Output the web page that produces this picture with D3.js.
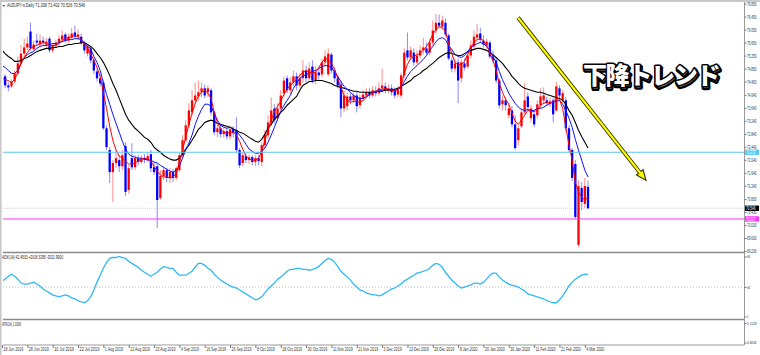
<!DOCTYPE html>
<html><head><meta charset="utf-8">
<script src="https://cdn.jsdelivr.net/npm/d3@7"></script>
<style>
html,body{margin:0;padding:0;background:#fff;}
svg{display:block;}
</style></head>
<body>
<svg id="chart" width="760" height="355"></svg>
<script>
// ================= DATA =================
const barOpen=[74.39,74.61,74.33,74.30,74.45,74.70,75.01,75.31,75.50,75.99,
75.44,75.71,75.59,75.71,75.59,75.77,75.41,75.56,75.65,75.74,
75.90,75.71,75.80,75.96,75.83,75.83,75.62,75.31,75.47,75.10,
74.76,74.55,74.42,73.01,72.34,71.66,71.94,72.03,71.84,72.46,
71.11,72.09,71.81,72.09,71.97,72.09,72.03,72.21,71.81,71.84,
70.86,71.54,71.72,71.48,71.66,71.48,71.72,72.18,72.64,73.10,
73.50,73.87,73.99,74.12,74.24,74.12,74.18,73.50,72.89,73.01,
72.83,72.92,72.76,72.98,72.95,72.34,71.94,72.15,72.03,72.12,
71.97,72.09,71.97,72.49,72.80,73.19,73.62,73.32,73.62,74.09,
74.55,74.18,74.42,74.61,74.33,74.55,74.79,74.55,74.91,74.48,
74.73,74.67,75.04,74.67,75.28,74.79,74.55,74.36,73.62,73.69,
73.99,73.87,74.02,73.72,73.93,74.02,74.12,74.02,74.15,74.09,
74.24,74.30,74.18,74.24,74.18,74.05,74.02,74.64,75.41,75.19,
75.34,75.04,75.25,75.41,75.47,75.34,75.65,76.02,76.26,76.14,
76.26,75.87,75.10,74.85,75.04,74.55,75.01,74.91,75.25,75.53,
75.80,75.93,75.71,75.56,75.65,75.22,75.10,74.48,73.75,73.87,
73.41,73.56,73.13,72.64,73.07,73.50,73.99,73.32,73.44,73.41,
73.72,73.87,73.87,73.75,73.87,73.56,74.24,73.87,73.87,73.01,
72.34,71.91,69.42,71.17,70.68,71.208];
const barHigh=[74.73,74.67,74.42,74.51,74.79,75.22,75.56,75.77,75.83,76.26,
75.71,75.93,75.90,75.83,75.80,75.83,75.65,75.74,75.87,76.02,
75.96,75.93,76.11,76.17,76.05,75.93,75.71,75.59,75.53,75.16,
74.85,74.67,74.48,73.10,72.43,72.03,72.34,72.18,72.34,72.58,
71.87,72.55,72.18,72.18,72.18,72.21,72.27,72.34,71.97,71.91,
71.72,71.84,71.78,71.78,71.75,71.84,72.27,72.80,73.26,73.78,
74.18,74.42,74.48,74.42,74.36,74.33,74.24,73.56,73.13,73.10,
73.01,73.04,73.10,73.07,73.35,72.40,72.27,72.24,72.21,72.18,
72.18,72.18,72.58,72.95,73.41,73.96,73.75,73.78,74.18,74.61,
74.64,74.58,74.79,74.73,74.70,75.10,74.94,75.04,75.10,74.91,
74.91,75.16,75.41,75.47,75.34,74.88,74.64,74.48,74.18,74.12,
74.09,74.12,74.12,74.05,74.18,74.24,74.24,74.30,74.30,74.42,
74.85,74.42,74.36,74.36,74.27,74.30,74.73,75.47,75.96,75.53,
75.47,75.41,75.56,75.80,75.65,75.77,76.33,76.54,76.51,76.48,
76.39,75.93,75.19,75.16,75.16,75.13,75.16,75.41,75.71,76.02,
76.23,76.11,75.87,75.77,75.71,75.41,75.16,74.55,74.02,73.96,
73.78,73.69,73.41,73.10,73.62,74.39,74.12,73.72,73.56,73.87,
74.24,74.27,73.99,73.96,73.96,74.45,74.33,74.18,73.96,73.10,
72.40,72.03,71.41,71.35,71.48,71.402];
const barLow=[73.93,74.24,74.15,74.24,74.39,74.64,74.94,75.22,75.41,75.41,
75.37,75.56,75.53,75.56,75.50,75.34,75.34,75.47,75.56,75.68,
75.65,75.62,75.74,75.77,75.74,75.59,75.31,75.22,75.01,74.67,
74.45,74.30,72.95,72.34,71.32,70.74,71.78,71.66,71.72,70.92,
71.01,71.72,71.72,71.87,71.91,71.94,71.97,71.66,71.57,69.94,
70.80,71.41,71.35,71.32,71.35,71.41,71.66,72.09,72.58,73.01,
73.41,73.75,73.87,73.96,73.93,73.96,73.41,72.80,72.73,72.73,
72.73,72.67,72.67,72.73,72.27,71.78,71.84,71.94,71.91,71.87,
71.84,71.87,71.84,72.40,72.70,73.10,73.16,73.23,73.56,73.99,
74.09,74.05,74.30,74.18,74.24,74.42,74.42,74.48,74.39,74.36,
74.51,74.58,74.91,74.61,74.70,74.42,74.24,73.35,73.50,73.56,
73.75,73.78,73.50,73.62,73.84,73.93,73.93,73.96,73.99,74.02,
74.12,74.09,74.09,74.02,73.93,73.96,73.93,74.55,75.10,75.10,
74.94,74.98,75.16,75.28,75.25,75.25,75.56,75.93,76.08,76.05,
75.83,75.10,74.73,74.73,73.78,74.42,74.79,74.85,75.16,75.47,
75.71,75.65,75.50,75.47,75.16,75.01,74.39,73.62,73.56,73.56,
73.32,73.04,72.34,72.49,73.01,73.44,73.56,73.19,73.04,73.32,
73.62,73.75,73.69,73.66,73.19,73.50,73.93,73.78,72.92,72.27,
71.38,70.22,69.36,70.49,70.55,70.526];
const barClose=[74.64,74.33,74.27,74.45,74.70,75.01,75.31,75.50,75.62,75.47,
75.59,75.65,75.71,75.65,75.68,75.41,75.56,75.65,75.77,75.87,
75.71,75.83,75.93,75.83,75.90,75.62,75.41,75.53,75.10,74.79,
74.55,74.39,73.01,72.43,71.66,71.94,72.09,71.84,72.18,71.05,
71.78,71.81,72.09,71.97,72.09,72.03,72.15,71.78,71.66,70.80,
71.54,71.72,71.48,71.66,71.48,71.78,72.18,72.64,73.10,73.56,
73.87,74.02,74.12,74.24,74.02,74.24,73.50,72.89,73.01,72.83,
72.92,72.76,72.98,72.86,72.34,71.87,72.18,72.03,72.12,71.97,
72.09,72.00,72.49,72.80,73.19,73.56,73.26,73.62,74.02,74.48,
74.18,74.42,74.61,74.33,74.55,74.79,74.55,74.85,74.48,74.73,
74.64,75.04,75.22,75.31,74.79,74.55,74.33,73.62,74.02,73.99,
73.87,74.02,73.69,73.96,74.05,74.12,74.02,74.18,74.09,74.24,
74.33,74.18,74.24,74.12,74.02,74.18,74.64,75.34,75.19,75.41,
75.04,75.25,75.41,75.50,75.34,75.65,76.02,76.26,76.17,76.33,
75.90,75.16,74.85,75.01,74.48,75.04,74.88,75.25,75.56,75.83,
75.90,75.74,75.59,75.68,75.22,75.10,74.48,73.72,73.87,73.72,
73.62,73.13,72.40,73.01,73.50,73.87,73.66,73.62,73.13,73.75,
73.99,74.02,73.78,73.84,73.44,74.30,74.02,74.09,73.01,72.34,
71.48,70.28,71.23,70.74,71.23,70.546];
// moving averages as drawn on the chart (fast red, medium blue, slow black)
const maFast=[74.55,74.51,74.48,74.42,74.51,74.73,75.01,75.19,75.34,75.47,
75.53,75.56,75.62,75.65,75.62,75.56,75.56,75.56,75.62,75.71,
75.77,75.80,75.83,75.87,75.83,75.74,75.59,75.47,75.31,75.10,
74.88,74.61,74.12,73.62,73.07,72.64,72.34,72.15,72.09,72.00,
71.91,71.91,71.94,72.00,72.06,72.09,72.06,72.00,71.84,71.69,
71.57,71.51,71.51,71.48,71.51,71.60,71.97,72.34,72.73,73.13,
73.47,73.78,73.99,74.12,74.18,74.09,73.93,73.50,73.19,72.98,
72.89,72.86,72.89,72.89,72.80,72.61,72.37,72.15,72.06,72.03,
72.03,72.09,72.30,72.64,72.95,73.26,73.53,73.69,73.84,74.05,
74.21,74.33,74.42,74.51,74.64,74.73,74.79,74.73,74.73,74.73,
74.88,75.04,75.16,75.13,75.01,74.82,74.55,74.27,74.02,73.90,
73.81,73.84,73.84,73.81,73.87,73.96,74.05,74.12,74.15,74.21,
74.21,74.24,74.21,74.18,74.15,74.18,74.33,74.70,74.98,75.16,
75.22,75.28,75.31,75.41,75.53,75.68,75.90,76.05,76.14,76.11,
75.99,75.62,75.31,75.04,74.98,74.98,75.07,75.28,75.50,75.65,
75.74,75.77,75.71,75.56,75.34,75.10,74.79,74.39,74.12,73.90,
73.75,73.47,73.23,73.13,73.26,73.41,73.56,73.53,73.53,73.56,
73.72,73.78,73.81,73.78,73.84,73.93,73.90,73.62,73.04,72.49,
72.03,71.35,71.05,70.89,70.80,70.89];
const maMid=[74.94,74.88,74.79,74.70,74.70,74.79,75.01,75.19,75.28,75.34,
75.37,75.47,75.53,75.56,75.56,75.59,75.62,75.62,75.65,75.68,
75.71,75.74,75.74,75.77,75.77,75.74,75.65,75.53,75.47,75.22,
75.04,74.79,74.42,74.05,73.75,73.44,73.16,72.89,72.61,72.37,
72.21,72.15,72.12,72.09,72.09,72.06,72.03,72.03,71.97,71.94,
71.87,71.81,71.75,71.69,71.66,71.72,71.84,72.09,72.34,72.55,
72.80,73.13,73.38,73.59,73.75,73.75,73.69,73.47,73.26,73.10,
73.04,73.01,73.04,73.01,72.92,72.80,72.67,72.52,72.37,72.30,
72.24,72.24,72.30,72.40,72.58,72.80,73.04,73.29,73.53,73.72,
73.87,74.02,74.24,74.39,74.55,74.61,74.67,74.70,74.76,74.79,
74.85,74.91,74.94,74.94,74.88,74.76,74.61,74.45,74.30,74.21,
74.12,74.02,73.96,73.93,73.93,73.99,74.05,74.12,74.12,74.18,
74.18,74.21,74.21,74.21,74.18,74.21,74.27,74.45,74.61,74.76,
74.85,74.94,75.04,75.13,75.25,75.41,75.53,75.68,75.77,75.80,
75.74,75.56,75.44,75.28,75.22,75.19,75.25,75.37,75.50,75.56,
75.62,75.65,75.62,75.53,75.41,75.22,75.04,74.76,74.51,74.30,
74.09,73.93,73.78,73.66,73.59,73.56,73.59,73.56,73.56,73.62,
73.62,73.66,73.72,73.78,73.81,73.84,73.87,73.75,73.56,73.32,
73.04,72.67,72.34,72.03,71.72,71.51];
const maSlow=[75.41,75.31,75.22,75.16,75.07,75.07,75.10,75.16,75.19,75.25,
75.31,75.37,75.41,75.44,75.47,75.47,75.50,75.50,75.53,75.53,
75.56,75.59,75.59,75.62,75.62,75.65,75.65,75.59,75.53,75.44,
75.31,75.19,75.04,74.85,74.64,74.39,74.18,73.93,73.69,73.44,
73.26,73.13,73.01,72.92,72.83,72.73,72.67,72.58,72.43,72.34,
72.27,72.18,72.12,72.06,72.03,72.03,72.09,72.21,72.37,72.49,
72.64,72.80,72.98,73.07,73.19,73.23,73.26,73.23,73.16,73.13,
73.10,73.07,73.04,72.98,72.95,72.89,72.86,72.80,72.73,72.67,
72.61,72.58,72.67,72.83,73.01,73.13,73.29,73.38,73.50,73.59,
73.72,73.81,73.90,73.99,74.18,74.33,74.39,74.45,74.45,74.48,
74.48,74.48,74.45,74.42,74.39,74.33,74.30,74.27,74.24,74.21,
74.18,74.15,74.15,74.12,74.12,74.12,74.12,74.12,74.15,74.15,
74.15,74.18,74.18,74.18,74.21,74.24,74.30,74.36,74.42,74.48,
74.58,74.64,74.70,74.79,74.85,74.94,75.01,75.10,75.19,75.25,
75.31,75.34,75.31,75.28,75.25,75.25,75.31,75.37,75.41,75.44,
75.47,75.47,75.44,75.41,75.34,75.28,75.19,75.10,75.01,74.88,
74.76,74.61,74.51,74.39,74.30,74.24,74.21,74.18,74.15,74.12,
74.12,74.09,74.05,74.02,73.99,73.96,73.93,73.87,73.75,73.56,
73.41,73.19,72.95,72.76,72.58,72.40];
const adxValues=[35.8,37.7,40.6,42.6,40.6,37.7,33.9,32.9,32.9,33.9,
34.8,32.9,31.0,28.1,26.1,24.2,22.3,21.3,20.3,21.3,
22.3,21.3,19.4,18.4,16.5,15.5,14.5,16.5,20.3,27.1,
34.8,41.6,48.4,54.2,58.1,59.0,59.0,60.0,59.0,58.1,
55.2,53.2,51.3,49.4,46.5,44.5,42.6,40.6,42.6,44.5,
47.4,50.3,49.4,48.4,48.4,44.5,41.6,41.6,41.6,43.6,
45.5,49.4,53.2,53.2,51.3,48.4,46.5,42.6,39.7,36.8,
34.8,32.9,31.0,30.0,29.0,27.1,25.2,23.2,21.3,19.4,
17.4,18.4,20.3,24.2,28.1,31.0,33.9,37.7,39.7,42.6,
45.5,47.4,47.4,48.4,48.4,47.4,47.4,46.5,47.4,48.4,
50.3,53.2,56.1,58.1,57.1,54.2,50.3,45.5,42.6,39.7,
36.8,32.9,30.0,27.1,26.1,24.2,23.2,22.3,22.3,21.3,
22.3,24.2,26.1,28.1,29.0,31.0,32.9,35.8,37.7,39.7,
41.6,43.6,44.5,45.5,46.5,48.4,51.3,53.2,52.3,49.4,
44.5,40.6,36.8,33.9,31.0,29.0,30.0,31.0,31.9,33.9,
33.9,32.9,34.8,37.7,41.6,43.6,43.6,39.7,36.8,34.8,
32.9,31.9,31.0,30.0,28.1,26.1,23.2,22.3,21.3,20.3,
19.4,18.4,16.5,15.5,14.5,14.5,17.4,21.3,26.1,31.0,
34.8,37.7,39.7,41.6,42.6,42.45];
const dateTickIndex=[0,8,16,24,32,40,48,56,64,72,80,88,96,104,112,120,128,136,144,152,160,168,176,184];
const dateTickLabels=["18 Jun 2019","28 Jun 2019","10 Jul 2019","22 Jul 2019","1 Aug 2019","13 Aug 2019","23 Aug 2019","4 Sep 2019","16 Sep 2019","26 Sep 2019","8 Oct 2019","18 Oct 2019","30 Oct 2019","11 Nov 2019","21 Nov 2019","3 Dec 2019","13 Dec 2019","26 Dec 2019","8 Jan 2020","20 Jan 2020","30 Jan 2020","11 Feb 2020","21 Feb 2020","4 Mar 2020"];
const priceTickLabels=["76.850","76.450","76.050","75.650","75.250","74.850","74.450","74.040","73.640","73.240","72.840","72.440","72.040","71.640","71.240","70.830","70.430","70.030","69.630","69.230"];
const adxTickLabels=["60","30","1"];
const atrTickLabels=["1.1128","0.3636"];
const titleText="AUDJPY-s,Daily  71.208 71.402 70.526 70.546";
const adxTitle="ADX(14) 42.4503 +DI18.3295 -DI21.9900";
const atrTitle="ATR(14) 1.0266";
const levelCyan=72.272, levelMagenta=70.217, lastPrice=70.546, adxLevel=30;
const annotText="下降トレンド";
const annotAt=[183.4,74.36];
const arrowFrom=[162.9,76.42], arrowTo=[203.3,71.41];

// ================= DRAWING =================
const svg=d3.select("#chart");
const FONT="'Liberation Sans', Arial, sans-serif";
const L=3, R=744;
const x=d3.scaleLinear().domain([0,185]).range([2,588]);
const y=d3.scaleLinear().domain([69.23,76.85]).range([251,3.6]);
const yA=d3.scaleLinear().domain([1,60]).range([316.5,256.5]);
const yT=d3.scaleLinear().domain([0.3636,1.1128]).range([342.5,323]);

svg.append("rect").attr("width",760).attr("height",355).attr("fill","#fff");
svg.append("rect").attr("x",0).attr("y",0).attr("width",760).attr("height",2).attr("fill","#c9c9c9");
svg.append("rect").attr("x",0).attr("y",0).attr("width",1.6).attr("height",355).attr("fill","#c9c9c9");

const defs=svg.append("defs");
defs.append("clipPath").attr("id","mainClip").append("rect").attr("x",L).attr("y",3).attr("width",R-L).attr("height",248.5);
defs.append("clipPath").attr("id","adxClip").append("rect").attr("x",L).attr("y",254).attr("width",R-L).attr("height",64);

function fitText(sel, perChar){
  sel.each(function(){
    d3.select(this).attr("textLength", this.textContent.length*perChar).attr("lengthAdjust","spacingAndGlyphs");
  });
}

// panel separators and frame lines
[[252.5,1.6,"#8a8a8a"],[319.5,1.6,"#8a8a8a"],[345,1,"#9a9a9a"]].forEach(d=>{
  svg.append("line").attr("x1",L).attr("x2",R).attr("y1",d[0]).attr("y2",d[0]).attr("stroke",d[2]).attr("stroke-width",d[1]);
});
svg.append("line").attr("x1",R+0.5).attr("x2",R+0.5).attr("y1",2).attr("y2",345).attr("stroke","#9a9a9a").attr("stroke-width",1);

// bid line
svg.append("line").attr("x1",L).attr("x2",R).attr("y1",y(lastPrice)).attr("y2",y(lastPrice))
  .attr("stroke","#d0d0d0").attr("stroke-width",1).attr("stroke-dasharray","1,1");

const main=svg.append("g").attr("clip-path","url(#mainClip)");
const bars=barClose.map((c,i)=>({i,o:barOpen[i],h:barHigh[i],l:barLow[i],c}));

main.selectAll("line.wick").data(bars).join("line").attr("class","wick")
  .attr("x1",d=>x(d.i)).attr("x2",d=>x(d.i))
  .attr("y1",d=>y(d.h)).attr("y2",d=>y(d.l))
  .attr("stroke",d=>d.c>=d.o?"#ff8a8a":"#8a8aff").attr("stroke-width",1);
main.selectAll("rect.body").data(bars).join("rect").attr("class","body")
  .attr("x",d=>x(d.i)-1.15).attr("width",2.3)
  .attr("y",d=>y(Math.max(d.o,d.c)))
  .attr("height",d=>Math.max(1,Math.abs(y(d.o)-y(d.c))))
  .attr("fill",d=>d.c>=d.o?"#ff0000":"#0000ff");

const maLine=arr=>d3.line().x((d,i)=>x(i)).y(d=>y(d))(arr);
main.append("path").attr("d",maLine(maSlow)).attr("fill","none").attr("stroke","#000").attr("stroke-width",1.1);
main.append("path").attr("d",maLine(maMid)).attr("fill","none").attr("stroke","#1010ff").attr("stroke-width",1);
main.append("path").attr("d",maLine(maFast)).attr("fill","none").attr("stroke","#ff0000").attr("stroke-width",1);

svg.append("line").attr("x1",L).attr("x2",R).attr("y1",y(levelCyan)).attr("y2",y(levelCyan))
  .attr("stroke","#5cc6f0").attr("stroke-width",1.2);
svg.append("line").attr("x1",L).attr("x2",R).attr("y1",y(levelMagenta)).attr("y2",y(levelMagenta))
  .attr("stroke","#ff33ff").attr("stroke-width",1.1);

// right price axis
const yAxis=d3.axisRight(y).tickValues(priceTickLabels.map(Number))
  .tickFormat((d,i)=>priceTickLabels[i]).tickSize(2).tickPadding(0.5);
const gy=svg.append("g").attr("transform",`translate(${R+0.5},0)`).call(yAxis);
gy.select(".domain").remove();
gy.selectAll(".tick line").attr("stroke","#777");
gy.selectAll("text").attr("font-family",FONT).attr("font-size",4.6).attr("fill","#333").call(fitText,1.6);

function tag(v,bg,fg,label){
  const yy=y(v);
  svg.append("rect").attr("x",R+1).attr("y",yy-2.7).attr("width",14).attr("height",5.4).attr("fill",bg);
  svg.append("text").attr("x",R+2).attr("y",yy+1.6).attr("font-family",FONT).attr("font-size",4.6)
    .attr("fill",fg).text(label).call(fitText,1.6);
}
tag(levelCyan,"#5cc6f0","#fff",levelCyan.toFixed(3));
tag(lastPrice,"#000","#fff",lastPrice.toFixed(3));
tag(levelMagenta,"#ff33ff","#fff",levelMagenta.toFixed(3));

// title
svg.append("text").attr("x",2).attr("y",6.8).attr("font-family",FONT).attr("font-size",3.6).attr("fill","#333").text("▼");
svg.append("text").attr("x",7).attr("y",6.8).attr("font-family",FONT).attr("font-size",5).attr("fill","#222")
  .text(titleText).attr("textLength",78).attr("lengthAdjust","spacingAndGlyphs");

// yellow trend arrow
const ax1=x(arrowFrom[0]), ay1=y(arrowFrom[1]), ax2=x(arrowTo[0]), ay2=y(arrowTo[1]);
const len=Math.hypot(ax2-ax1,ay2-ay1), ux=(ax2-ax1)/len, uy=(ay2-ay1)/len;
const bx=ax2-ux*10, by=ay2-uy*10;
const head=[[ax2,ay2],[bx-uy*4.2,by+ux*4.2],[bx+uy*4.2,by-ux*4.2]];
svg.append("line").attr("x1",ax1).attr("y1",ay1).attr("x2",bx).attr("y2",by).attr("stroke","#3a3a00").attr("stroke-width",4);
svg.append("polygon").attr("points",head.map(p=>p.join(",")).join(" ")).attr("fill","#ffff00").attr("stroke","#3a3a00").attr("stroke-width",1.2);
svg.append("line").attr("x1",ax1).attr("y1",ay1).attr("x2",bx+ux).attr("y2",by+uy).attr("stroke","#ffff00").attr("stroke-width",2.2);

// Japanese annotation
const jp=(dx,dy,fill,sw)=>svg.append("text").attr("x",x(annotAt[0])+dx).attr("y",y(annotAt[1])+dy)
  .attr("font-family","'Noto Sans CJK JP',sans-serif").attr("font-weight",900).attr("font-size",24)
  .attr("fill",fill).attr("stroke","#000").attr("stroke-width",sw).attr("stroke-linejoin","round")
  .attr("paint-order","stroke").attr("letter-spacing",-1.3).text(annotText);
jp(1,1.2,"#777",4.5);
jp(0,0,"#fff",3);

// ADX panel
svg.append("line").attr("x1",L).attr("x2",R).attr("y1",yA(adxLevel)).attr("y2",yA(adxLevel))
  .attr("stroke","#bdbdbd").attr("stroke-width",1).attr("stroke-dasharray","1,2");
svg.append("g").attr("clip-path","url(#adxClip)").append("path")
  .attr("d",d3.line().x((d,i)=>x(i)).y(d=>yA(d))(adxValues))
  .attr("fill","none").attr("stroke","#2fb9f2").attr("stroke-width",1.3);
svg.append("text").attr("x",2).attr("y",258.8).attr("font-family",FONT).attr("font-size",5).attr("fill","#222")
  .text(adxTitle).attr("textLength",61).attr("lengthAdjust","spacingAndGlyphs");
const aAxis=d3.axisRight(yA).tickValues(adxTickLabels.map(Number)).tickFormat((d,i)=>adxTickLabels[i]).tickSize(2).tickPadding(0.5);
const ga=svg.append("g").attr("transform",`translate(${R+0.5},0)`).call(aAxis);
ga.select(".domain").remove();
ga.selectAll(".tick line").attr("stroke","#777");
ga.selectAll("text").attr("font-family",FONT).attr("font-size",4.4).attr("fill","#333").call(fitText,1.6);

// ATR panel
svg.append("text").attr("x",2).attr("y",325.8).attr("font-family",FONT).attr("font-size",5).attr("fill","#222")
  .text(atrTitle).attr("textLength",19).attr("lengthAdjust","spacingAndGlyphs");
const tAxis=d3.axisRight(yT).tickValues(atrTickLabels.map(Number)).tickFormat((d,i)=>atrTickLabels[i]).tickSize(2).tickPadding(0.5);
const gt=svg.append("g").attr("transform",`translate(${R+0.5},0)`).call(tAxis);
gt.select(".domain").remove();
gt.selectAll(".tick line").attr("stroke","#777");
gt.selectAll("text").attr("font-family",FONT).attr("font-size",4.4).attr("fill","#333").call(fitText,1.6);

// date axis
const xAxis=d3.axisBottom(x).tickValues(dateTickIndex).tickFormat((d,i)=>dateTickLabels[i]).tickSize(3).tickPadding(0);
const gx=svg.append("g").attr("transform","translate(0,345)").call(xAxis);
gx.select(".domain").remove();
gx.selectAll(".tick line").attr("stroke","#777");
gx.selectAll("text").attr("font-family",FONT).attr("font-size",4.8).attr("fill","#333")
  .attr("text-anchor","start").attr("x",1).attr("y",6.2).attr("dy",0).call(fitText,1.8);
</script>
</body></html>
